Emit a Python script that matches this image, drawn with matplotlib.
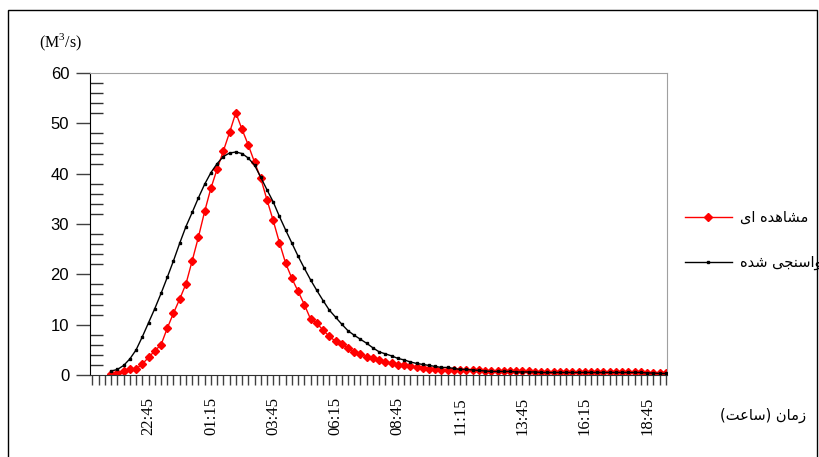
import matplotlib
matplotlib.use("Agg")
import matplotlib.pyplot as plt
from matplotlib.patches import Rectangle
from matplotlib.ticker import FixedLocator, MultipleLocator

plt.rcParams["mathtext.fontset"] = "custom"
plt.rcParams["mathtext.rm"] = "Liberation Serif"

# time series every 15 minutes, first sample at 21:15
start_time = (21, 15)
step_minutes = 15

# observed discharge (m3/s)
observed = [0.2, 0.4, 0.8, 1.1, 1.2, 2.2, 3.5, 4.8, 6.0, 9.3,
            12.3, 15.1, 18.1, 22.7, 27.4, 32.5, 37.1, 40.9, 44.5, 48.2,
            52.1, 48.8, 45.7, 42.3, 39.1, 34.8, 30.7, 26.3, 22.2, 19.2,
            16.6, 14.0, 11.1, 10.3, 8.9, 7.7, 6.7, 6.1, 5.4, 4.6,
            4.1, 3.6, 3.3, 3.0, 2.5, 2.3, 2.0, 1.9, 1.7, 1.5,
            1.3, 1.2, 1.1, 1.0, 1.0, 1.0, 1.0, 1.0, 0.9, 0.9,
            0.8, 0.8, 0.8, 0.75, 0.75, 0.7, 0.7, 0.7, 0.5, 0.5,
            0.5, 0.5, 0.5, 0.5, 0.5, 0.5, 0.5, 0.5, 0.5, 0.5,
            0.5, 0.5, 0.5, 0.5, 0.5, 0.5, 0.35, 0.35, 0.3, 0.3]

# calibrated model discharge (m3/s)
calibrated = [0.8, 1.1, 1.9, 3.2, 5.0, 7.6, 10.4, 13.2, 16.2, 19.4,
              22.7, 26.2, 29.5, 32.3, 35.2, 37.9, 40.2, 42.0, 43.4, 44.1,
              44.3, 44.0, 43.1, 41.7, 39.3, 36.8, 34.4, 31.5, 28.8, 26.2,
              23.6, 21.2, 18.9, 16.8, 14.8, 12.9, 11.5, 10.1, 8.8, 7.9,
              7.1, 6.3, 5.4, 4.6, 4.2, 3.8, 3.3, 3.0, 2.6, 2.3,
              2.1, 1.9, 1.7, 1.5, 1.5, 1.3, 1.1, 1.1, 1.0, 0.9,
              0.8, 0.7, 0.7, 0.7, 0.7, 0.6, 0.6, 0.6, 0.6, 0.5,
              0.5, 0.5, 0.5, 0.5, 0.5, 0.5, 0.5, 0.5, 0.5, 0.5,
              0.5, 0.5, 0.5, 0.5, 0.5, 0.5, 0.4, 0.4, 0.3, 0.3]

tick_labels = ["22:45", "01:15", "03:45", "06:15", "08:45",
               "11:15", "13:45", "16:15", "18:45"]

# Persian texts, written in visual (shaped, right-to-left) order
label_observed = "\ufeef\ufe8d \ufee9\ufeaa\ufeeb\ufe8e\ufeb8\ufee3"      # مشاهده ای
label_calibrated = "\ufee9\ufeaa\ufeb7 \ufef0\ufea0\ufee8\ufeb3\ufe8d\ufeed"  # واسنجی شده
label_time = "(\ufe96\ufecb\ufe8e\ufeb3) \ufee5\ufe8e\ufee3\ufeaf"           # زمان (ساعت)

x = list(range(len(observed)))
times = []
for i in x:
    m = (start_time[0] * 60 + start_time[1] + i * step_minutes) % (24 * 60)
    times.append("%02d:%02d" % (m // 60, m % 60))
label_pos = [i for i, t in enumerate(times) if t in tick_labels]

W, H = 819, 457
fig = plt.figure(figsize=(W / 100, H / 100), dpi=100)
ax = fig.add_axes([90 / W, 1 - 375 / H, 577 / W, 302 / H])

ax.plot(x, observed, color="#ff0000", lw=1, marker="D", ms=4.5,
        mec="#ff0000", mfc="#ff0000", zorder=2)
ax.plot(x, calibrated, color="black", lw=1, marker="s", ms=2,
        zorder=3)

ax.set_xlim(-3.4, len(observed) - 0.8)
ax.set_ylim(0, 60)

# x axis
ax.xaxis.set_major_locator(FixedLocator(label_pos))
ax.set_xticklabels(tick_labels, rotation=90, family="Liberation Serif",
                   fontsize=12)
ax.xaxis.set_minor_locator(MultipleLocator(1))
ax.tick_params(axis="x", which="both", direction="out", length=7,
               width=1, color="#404040", pad=9)

# y axis
ax.set_yticks(range(0, 61, 10))
ax.yaxis.set_minor_locator(MultipleLocator(2))
ax.tick_params(axis="y", which="major", direction="out", length=10,
               width=1, color="#404040", pad=5, labelsize=12)
ax.tick_params(axis="y", which="minor", direction="in", length=9,
               width=1, color="#303030")
for lab in ax.get_yticklabels():
    lab.set_family("Liberation Sans")

ax.spines["left"].set_color("black")
ax.spines["bottom"].set_color("#303030")
ax.spines["top"].set_color("#a0a0a0")
ax.spines["right"].set_color("#a0a0a0")

fig.text(61 / W, 1 - 42 / H, "(M$^{3}$/s)", family="Liberation Serif",
         fontsize=11.5, ha="center", va="center")
fig.text(720 / W, 1 - 415 / H, label_time, family="DejaVu Sans",
         fontsize=10.5, ha="left", va="center")

fig.legend(ax.get_lines(), [label_observed, label_calibrated],
           loc="upper left", bbox_to_anchor=(685 / W, 1 - 210 / H),
           frameon=False, borderpad=0, borderaxespad=0,
           handlelength=3.2, handletextpad=0.55, labelspacing=2.05,
           prop={"family": "DejaVu Sans", "size": 10.5})

# page frame
fig.patches.append(Rectangle((8 / W, -0.1), 809 / W, 1.1 - 10 / H,
                             transform=fig.transFigure, fill=False,
                             edgecolor="black", lw=1))

fig.savefig("out.png", dpi=100)
